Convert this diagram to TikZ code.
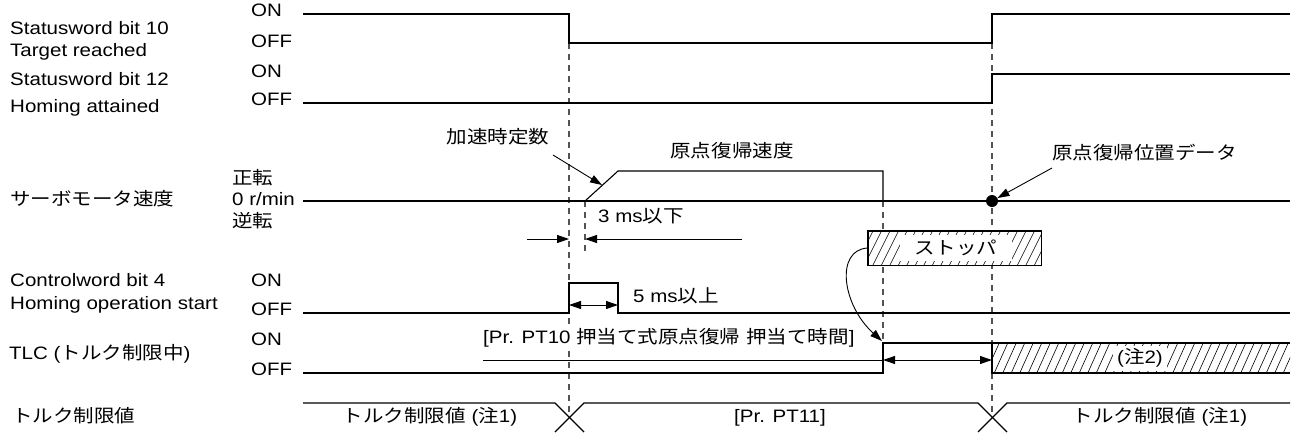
\documentclass[tikz,border=0pt]{standalone}
\usepackage{fontspec}
\setmainfont{Liberation Sans}[FakeStretch=1.14]
\newfontfamily\jp{Noto Sans CJK JP}[FakeStretch=1.14]
\usetikzlibrary{arrows.meta}
\tikzset{
  sig/.style={line width=1.1pt, line join=miter},
  guide/.style={gray!65!black, line width=1.1pt, dash pattern=on 6pt off 5pt},
  lbl/.style={anchor=mid west, inner sep=0pt, font=\fontsize{18}{21}\selectfont},
  clbl/.style={anchor=mid, inner sep=0pt, font=\fontsize{18}{21}\selectfont},
  boxlbl/.style={anchor=center, inner sep=0pt, fill=white, font=\fontsize{18}{21}\selectfont},
  arw/.style={-{Triangle[length=12pt,width=8pt]}, line width=0.9pt},
  darw/.style={{Triangle[length=12pt,width=8pt]}-{Triangle[length=12pt,width=8pt]}, line width=0.9pt},
  hatchline/.style={line width=0.6pt},
}
\begin{document}
\begin{tikzpicture}[x=1pt,y=-1pt]
\useasboundingbox (0,0) rectangle (1294,432);

% ---- left labels
\node[lbl] (s10a) at (10,32) {Statusword bit 10};
\node[lbl] (s10b) at (10,54) {Target reached};
\node[lbl] (s12a) at (10,83) {Statusword bit 12};
\node[lbl] (s12b) at (10,110) {Homing attained};
\node[lbl] (spd) at (10,203) {\jp サーボモータ速度};
\node[lbl] (cw4a) at (10,284) {Controlword bit 4};
\node[lbl] (cw4b) at (10,307) {Homing operation start};
\node[lbl] (tlc) at (9,357) {TLC ({\jp トルク制限中})};
\node[lbl] (tqv) at (12,420) {\jp トルク制限値};

% ---- level labels
\node[lbl] (on1) at (251,14) {ON};
\node[lbl] (off1) at (251,45) {OFF};
\node[lbl] (on2) at (251,75) {ON};
\node[lbl] (off2) at (251,103) {OFF};
\node[lbl] (fwd) at (232,182) {\jp 正転};
\node[lbl] (zero) at (232,203) {0 r/min};
\node[lbl] (rev) at (232,225) {\jp 逆転};
\node[lbl] (on4) at (251,284) {ON};
\node[lbl] (off4) at (251,313) {OFF};
\node[lbl] (on5) at (251,343) {ON};
\node[lbl] (off5) at (251,373) {OFF};

% ---- guide lines
\coordinate (ga1) at (569,43);  \coordinate (ga2) at (569,417);
\coordinate (gb1) at (992,43);  \coordinate (gb2) at (992,417);
\coordinate (gc1) at (883,201); \coordinate (gc2) at (883,343);
\coordinate (gd1) at (585,201); \coordinate (gd2) at (585,252);
\draw[guide] (ga1) -- (ga2);
\draw[guide] (gb1) -- (gb2);
\draw[guide] (gc1) -- (gc2);
\draw[guide] (gd1) -- (gd2);

% ---- signals
\draw[sig] (303,14) -- (569,14) -- (569,43) -- (992,43) -- (992,14) -- (1290,14);
\draw[sig] (303,103) -- (992,103) -- (992,74) -- (1290,74);
\draw[sig] (303,201) -- (1290,201);
\draw[sig] (585,201) -- (618,171) -- (883,171) -- (883,201);
\draw[sig] (303,313) -- (569,313) -- (569,283) -- (618,283) -- (618,313) -- (1290,313);
\draw[sig] (303,373) -- (883,373) -- (883,343) -- (1290,343);
\draw[sig] (303,403) -- (555,403) -- (584,432);
\draw[sig] (555,432) -- (584,403) -- (978,403) -- (1007,432);
\draw[sig] (978,432) -- (1007,403) -- (1290,403);

% ---- speed annotations
\node[clbl] (acc) at (498,141) {\jp 加速時定数};
\coordinate (acc1) at (553,155);
\coordinate (acc2) at (602,185);
\draw[arw] (acc1) -- (acc2);
\node[clbl] (hspd) at (732,155) {\jp 原点復帰速度};
\node[circle, fill=black, inner sep=0pt, minimum size=12pt] (dot) at (992,201) {};
\node[lbl] (hpos) at (1052,157) {\jp 原点復帰位置データ};
\coordinate (hpos1) at (1052,168);
\draw[arw] (hpos1) -- (dot);

% ---- 3 ms
\node[lbl] (t3) at (598,219.5) {3 ms{\jp 以下}};
\coordinate (t3a) at (527,239); \coordinate (t3b) at (569,239);
\coordinate (t3c) at (742,239); \coordinate (t3d) at (585,239);
\draw[arw] (t3a) -- (t3b);
\draw[arw] (t3c) -- (t3d);

% ---- 5 ms
\node[lbl] (t5) at (633,300) {5 ms{\jp 以上}};
\coordinate (t5a) at (569,305); \coordinate (t5b) at (618,305);
\draw[darw] (t5a) -- (t5b);

% ---- stopper
\node[draw, line width=1pt, fill=white, minimum width=173pt, minimum height=34pt, inner sep=0pt] (stopbox) at (954.5,248) {};
\begin{scope}
  \clip (868,231) rectangle (1041,265);
  \foreach \i in {0,...,24}{\draw[hatchline] (845+\i*8.5,270) -- ++(22,-44);}
\end{scope}
\draw[line width=1pt] (stopbox.south west) rectangle (stopbox.north east);
\node[boxlbl, minimum width=112pt, minimum height=26pt] (stoptxt) at (956,248) {\jp ストッパ};
\coordinate (tlcup) at (882,341);
\draw[arw] (stopbox.west) .. controls (835,250) and (842,305) .. (tlcup);

% ---- PT10
\node[lbl, fill=white, inner ysep=2pt] (pt10) at (483,341) {[Pr. PT10 {\jp 押当て式原点復帰} {\jp 押当て時間}]};
\coordinate (pa) at (483,360); \coordinate (pb) at (883,360); \coordinate (pc) at (992,360);
\draw[line width=0.9pt] (pa) -- (pb);
\draw[darw] (pb) -- (pc);

% ---- note 2 hatched area
\begin{scope}
  \clip (992,343) rectangle (1290,373);
  \foreach \i in {0,...,37}{\draw[hatchline] (975+\i*8.5,378) -- ++(18,-40);}
\end{scope}
\coordinate (n2sw) at (992,373); \coordinate (n2se) at (1290,373); \coordinate (n2nw) at (992,343);
\draw[sig] (n2nw) -- (n2sw) -- (n2se);
\node[boxlbl, minimum width=54pt, minimum height=25pt] (n2) at (1140,358) {({\jp 注}2)};

% ---- torque values
\node[clbl] (tq1) at (430,420) {{\jp トルク制限値} ({\jp 注}1)};
\node[clbl] (tq2) at (780,420) {[Pr. PT11]};
\node[clbl] (tq3) at (1160,420) {{\jp トルク制限値} ({\jp 注}1)};
\end{tikzpicture}
\end{document}
